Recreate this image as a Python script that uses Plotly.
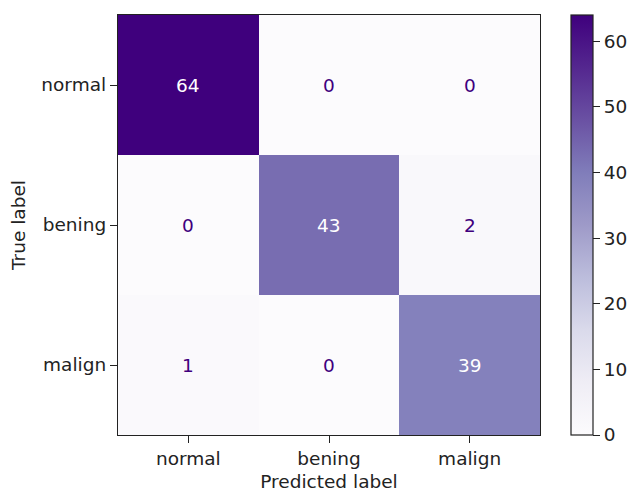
import plotly.graph_objects as go

# Confusion matrix data
classes = ["normal", "bening", "malign"]
counts = [
    [64, 0, 0],
    [0, 43, 2],
    [1, 0, 39],
]
cbar_ticks = [0, 10, 20, 30, 40, 50, 60]

purples = [
    [0.000, "rgb(252,251,253)"],
    [0.125, "rgb(239,237,245)"],
    [0.250, "rgb(218,218,235)"],
    [0.375, "rgb(188,189,220)"],
    [0.500, "rgb(158,154,200)"],
    [0.625, "rgb(128,125,186)"],
    [0.750, "rgb(106,81,163)"],
    [0.875, "rgb(84,39,143)"],
    [1.000, "rgb(63,0,125)"],
]

FONT = "DejaVu Sans"
FS = 18.5
zmin = 0
zmax = max(max(r) for r in counts)
thresh = (zmax + zmin) / 2.0

fig = go.Figure(
    go.Heatmap(
        z=counts,
        x=classes,
        y=classes,
        zmin=zmin,
        zmax=zmax,
        colorscale=purples,
        showscale=True,
        colorbar=dict(
            x=1.073,
            xanchor="left",
            y=0.5,
            yanchor="middle",
            len=1.0,
            lenmode="fraction",
            thickness=22,
            thicknessmode="pixels",
            outlinewidth=1.2,
            outlinecolor="#222",
            tickvals=cbar_ticks,
            ticks="outside",
            ticklen=7,
            tickwidth=1.3,
            tickcolor="#222",
            tickfont=dict(family=FONT, size=FS, color="#222"),
            xpad=0,
            ypad=0,
        ),
        hoverinfo="skip",
    )
)

# Cell value labels (white on dark cells, deep purple on light cells)
annotations = []
for i, row in enumerate(counts):
    for j, v in enumerate(row):
        annotations.append(
            dict(
                x=classes[j],
                y=classes[i],
                text=str(v),
                showarrow=False,
                font=dict(
                    family=FONT,
                    size=FS,
                    color="white" if v > thresh else "rgb(63,0,125)",
                ),
            )
        )

fig.update_layout(
    width=632,
    height=495,
    margin=dict(l=118, r=92, t=15, b=60, autoexpand=False),
    paper_bgcolor="white",
    plot_bgcolor="white",
    font=dict(family=FONT, size=FS, color="#222"),
    annotations=annotations,
    xaxis=dict(
        title=dict(text="Predicted label", standoff=6,
                   font=dict(family=FONT, size=FS, color="#222")),
        showline=True,
        linecolor="#222",
        linewidth=1.3,
        mirror=True,
        ticks="outside",
        ticklen=7,
        tickwidth=1.3,
        tickcolor="#222",
        showgrid=False,
        zeroline=False,
    ),
    yaxis=dict(
        title=dict(text="True label", standoff=10,
                   font=dict(family=FONT, size=FS, color="#222")),
        showline=True,
        linecolor="#222",
        linewidth=1.3,
        mirror=True,
        ticks="outside",
        ticklen=7,
        tickwidth=1.3,
        tickcolor="#222",
        showgrid=False,
        zeroline=False,
        autorange="reversed",
    ),
)

fig.write_html("out.html")
